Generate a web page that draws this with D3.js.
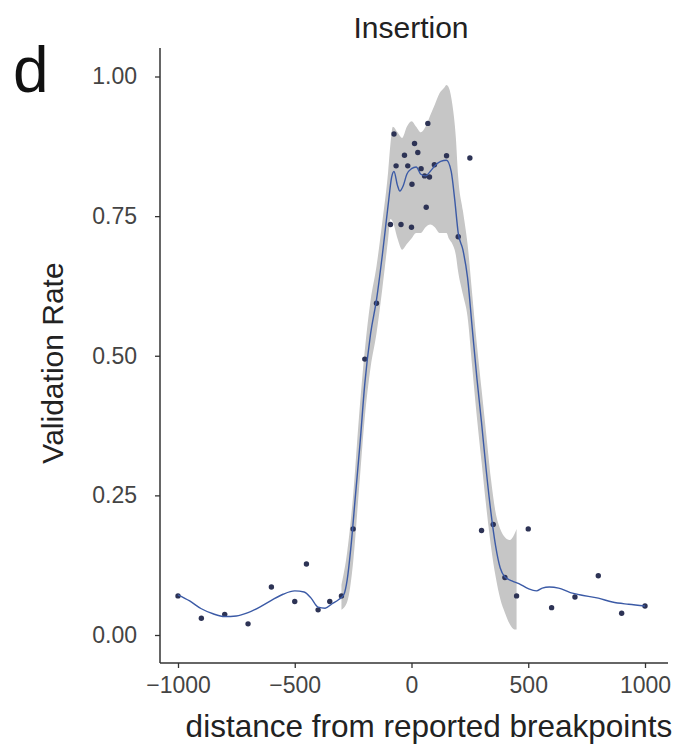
<!DOCTYPE html>
<html lang="en">
<head>
<meta charset="UTF-8">
<title>Insertion validation rate</title>
<style>
  body { margin: 0; background: #fff; }
  svg { display: block; font-family: "Liberation Sans", Arial, sans-serif; }
  .tick text { fill: #444; font-size: 23px; }
  .tick line { stroke: #333; stroke-width: 1.3; }
</style>
</head>
<body>
<div id="chart"></div>
<script src="https://d3js.org/d3.v7.min.js"></script>
<script>
// --- data ---
const pointX = [-1000, -900, -800, -700, -600, -500, -450, -400, -350, -300,
                -250, -200, -150,
                -90, -75, -66, -45, -30, -16, 0, 2, 13, 27, 41, 56, 63, 70, 77, 98, 150, 200, 250,
                300, 350, 400, 450, 500, 600, 700, 800, 900, 1000];
const pointY = [0.070, 0.030, 0.037, 0.020, 0.086, 0.060, 0.127, 0.045, 0.060, 0.070,
                0.190, 0.494, 0.594,
                0.735, 0.897, 0.840, 0.735, 0.859, 0.840, 0.730, 0.807, 0.880, 0.864, 0.835, 0.822, 0.766, 0.916, 0.820, 0.842, 0.858, 0.713, 0.854,
                0.187, 0.198, 0.103, 0.070, 0.190, 0.049, 0.068, 0.106, 0.039, 0.052];

// smoothed fit
const lineX = [-1000, -950, -900, -850, -800, -750, -700, -650, -600, -550, -500, -460, -430, -400, -370, -340, -310, -290,
               -275, -260, -240, -220, -200, -175, -150, -125, -100, -85,
               -75, -60, -50, -35, -20, 0, 20, 40, 60, 80, 100, 125, 150, 170, 185,
               200, 220, 240, 260, 280, 300, 320, 340, 360, 380, 400, 430, 460, 500, 535, 560, 590, 630, 680, 720, 800, 860, 930, 1000];
const lineY = [0.072, 0.061, 0.047, 0.038, 0.033, 0.034, 0.040, 0.050, 0.062, 0.073, 0.079, 0.077, 0.066, 0.050, 0.048, 0.056, 0.064, 0.072,
               0.100, 0.155, 0.250, 0.345, 0.450, 0.540, 0.600, 0.680, 0.770, 0.820,
               0.830, 0.805, 0.795, 0.805, 0.825, 0.835, 0.838, 0.825, 0.822, 0.830, 0.840, 0.848, 0.850, 0.830, 0.780,
               0.720, 0.690, 0.640, 0.550, 0.460, 0.380, 0.295, 0.220, 0.160, 0.120, 0.104, 0.097, 0.092, 0.083, 0.079, 0.084, 0.086, 0.084, 0.076, 0.072, 0.066, 0.059, 0.055, 0.052];

// confidence band
const bandX  = [-300, -275, -250, -225, -200, -175, -150, -125, -100, -90, -80, -60, -40, -20, 0, 20, 40, 60, 80, 100, 120, 140, 150, 160, 175, 190, 200, 220, 240, 260, 280, 300, 320, 340, 360, 380, 400, 420, 440, 450];
const bandHi = [0.090, 0.150, 0.250, 0.390, 0.510, 0.600, 0.660, 0.740, 0.830, 0.880, 0.910, 0.900, 0.890, 0.910, 0.920, 0.910, 0.900, 0.910, 0.930, 0.950, 0.970, 0.980, 0.985, 0.980, 0.950, 0.890, 0.820, 0.760, 0.700, 0.610, 0.520, 0.440, 0.360, 0.280, 0.220, 0.190, 0.175, 0.170, 0.180, 0.190];
const bandLo = [0.045, 0.060, 0.130, 0.260, 0.390, 0.480, 0.540, 0.620, 0.710, 0.745, 0.740, 0.710, 0.690, 0.700, 0.710, 0.720, 0.720, 0.730, 0.735, 0.730, 0.720, 0.720, 0.720, 0.710, 0.700, 0.680, 0.650, 0.610, 0.570, 0.480, 0.390, 0.310, 0.230, 0.160, 0.105, 0.065, 0.040, 0.020, 0.010, 0.010];

const xTicks = [-1000, -500, 0, 500, 1000];
const yTicks = [0, 0.25, 0.5, 0.75, 1];

// --- layout ---
const W = 679, H = 746;
const panel = {left: 160, right: 668, top: 48, bottom: 663};

const svg = d3.select("#chart").append("svg")
    .attr("width", W).attr("height", H);

const x = d3.scaleLinear().domain([-1000, 1000]).range([178, 645]);
const y = d3.scaleLinear().domain([0, 1]).range([635, 76.5]);

// ribbon
const band = bandX.map((v, i) => ({x: v, lo: bandLo[i], hi: bandHi[i]}));
svg.append("path")
    .datum(band)
    .attr("fill", "#c6c6c6")
    .attr("d", d3.area()
        .x(d => x(d.x))
        .y0(d => y(d.lo))
        .y1(d => y(d.hi))
        .curve(d3.curveMonotoneX));

// points
svg.append("g").selectAll("circle")
    .data(pointX.map((v, i) => ({x: v, y: pointY[i]})))
    .join("circle")
      .attr("cx", d => x(d.x))
      .attr("cy", d => y(d.y))
      .attr("r", 2.7)
      .attr("fill", "#2d3355");

// smooth line
svg.append("path")
    .datum(lineX.map((v, i) => ({x: v, y: lineY[i]})))
    .attr("fill", "none")
    .attr("stroke", "#3b5aa6")
    .attr("stroke-width", 1.4)
    .attr("d", d3.line().x(d => x(d.x)).y(d => y(d.y)).curve(d3.curveMonotoneX));

// axes
const yAxis = svg.append("g")
    .attr("transform", `translate(${panel.left},0)`)
    .call(d3.axisLeft(y).tickValues(yTicks).tickFormat(d3.format(".2f")).tickSize(5).tickPadding(18));
yAxis.select(".domain").remove();

const xAxis = svg.append("g")
    .attr("transform", `translate(0,${panel.bottom})`)
    .call(d3.axisBottom(x).tickValues(xTicks).tickFormat(d3.format("d")).tickSize(5).tickPadding(9));
xAxis.select(".domain").remove();

svg.append("line")
    .attr("x1", panel.left).attr("x2", panel.left)
    .attr("y1", panel.top).attr("y2", panel.bottom)
    .attr("stroke", "#333").attr("stroke-width", 1.5);
svg.append("line")
    .attr("x1", panel.left).attr("x2", panel.right)
    .attr("y1", panel.bottom).attr("y2", panel.bottom)
    .attr("stroke", "#333").attr("stroke-width", 1.5);

// titles
svg.append("text")
    .attr("x", 411).attr("y", 38)
    .attr("text-anchor", "middle")
    .attr("fill", "#222")
    .style("font-size", "30px")
    .text("Insertion");

svg.append("text")
    .attr("x", 429).attr("y", 737)
    .attr("text-anchor", "middle")
    .attr("fill", "#222")
    .style("font-size", "31.5px")
    .text("distance from reported breakpoints");

svg.append("text")
    .attr("transform", "translate(63,363) rotate(-90)")
    .attr("text-anchor", "middle")
    .attr("fill", "#222")
    .style("font-size", "30px")
    .text("Validation Rate");

svg.append("text")
    .attr("x", 13).attr("y", 92)
    .attr("fill", "#111")
    .style("font-size", "64px")
    .text("d");
</script>
</body>
</html>
